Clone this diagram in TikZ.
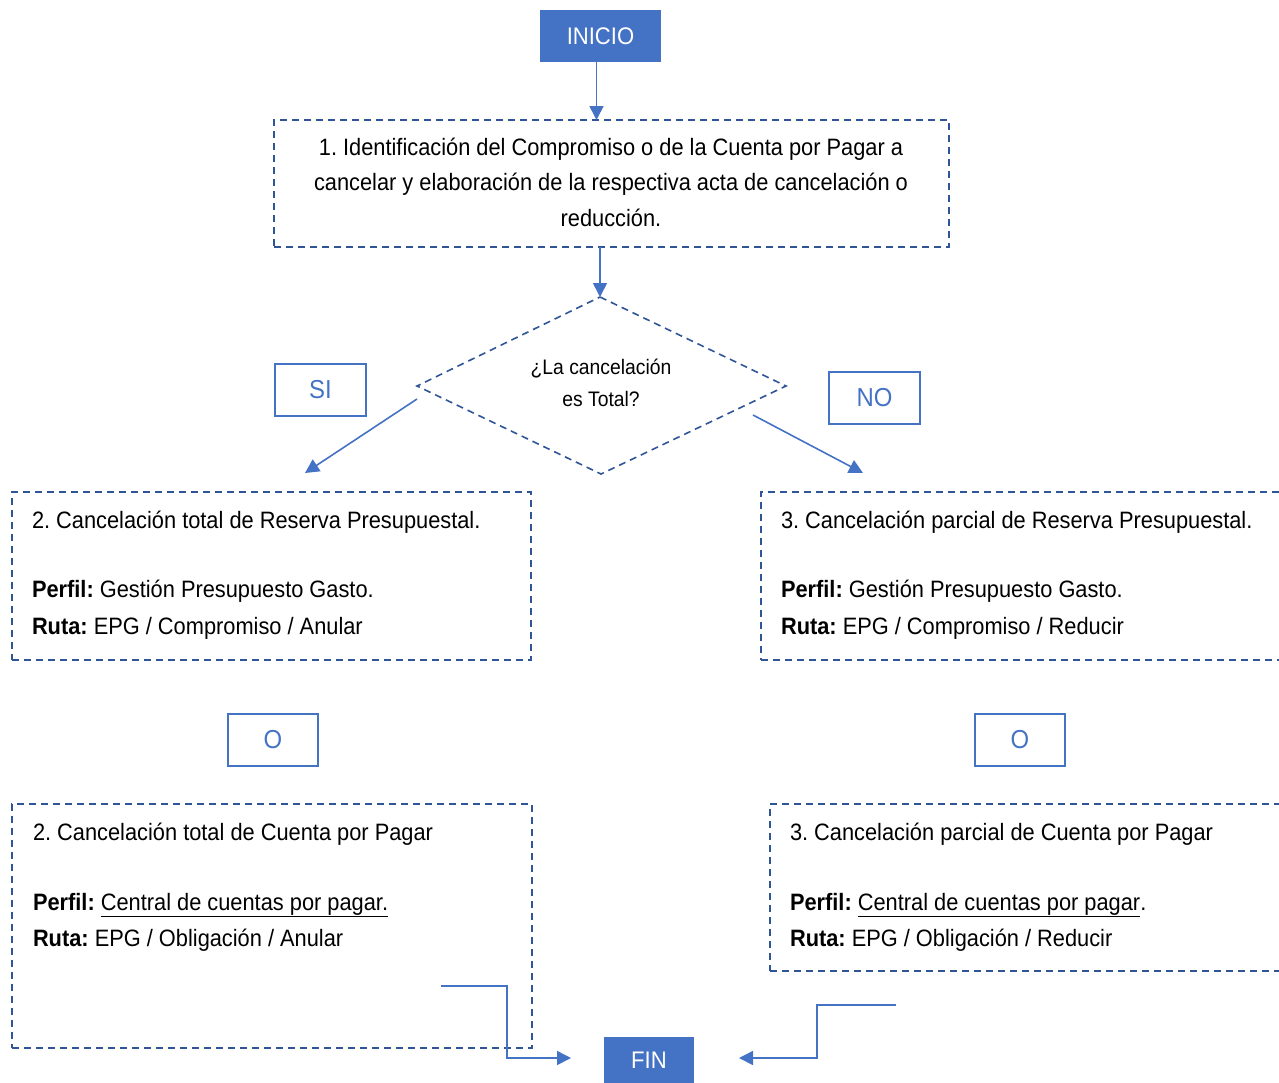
\documentclass[tikz,border=0pt]{standalone}
\usepackage{fontspec}
\setmainfont[FakeStretch=0.92]{Liberation Sans}
\usetikzlibrary{arrows.meta,shapes.geometric}
\definecolor{fillblue}{HTML}{4472C4}
\definecolor{dashblue}{HTML}{2F5597}
\begin{document}
\frenchspacing
\begin{tikzpicture}[x=1pt,y=-1pt,
  every node/.style={inner sep=0pt,outer sep=0pt},
  termbox/.style={fill=fillblue,draw=none,text=white,font=\fontsize{24}{28}\selectfont},
  dashbox/.style={draw=dashblue,line width=1.6pt,dash pattern=on 7pt off 5pt},
  labbox/.style={draw=fillblue,line width=1.6pt,text=fillblue,font=\fontsize{26}{30}\selectfont},
  txt/.style={font=\fontsize{23.7}{28}\selectfont,anchor=base west},
  ctxt/.style={font=\fontsize{23.7}{28}\selectfont,anchor=base},
  dtxt/.style={font=\fontsize{21}{25}\selectfont,anchor=base},
  conn/.style={draw=fillblue,line width=1.6pt,-{Triangle[length=14pt,width=14pt]}}
]
\useasboundingbox (0,0) rectangle (1279,1082);
\clip (0,0) rectangle (1279,1082);
% terminal nodes
\node[termbox,minimum width=121pt,minimum height=52pt] (inicio) at (600.5,36) {INICIO};
\node[termbox,minimum width=90pt,minimum height=46pt] (fin) at (649,1060) {FIN};
% step 1
\node[dashbox,minimum width=675pt,minimum height=127pt] (b1) at (611.5,183.5) {};
\node[ctxt] (b1l1) at (611,155) {1. Identificación del Compromiso o de la Cuenta por Pagar a};
\node[ctxt] (b1l2) at (611,190.5) {cancelar y elaboración de la respectiva acta de cancelación o};
\node[ctxt] (b1l3) at (611,226) {reducción.};
% decision
\coordinate (dt) at (600,297);
\coordinate (dl) at (417,386);
\coordinate (dr) at (786,386);
\coordinate (db) at (601,474);
\draw[dashbox] (dt) -- (dr) -- (db) -- (dl) -- cycle;
\node[dtxt] (q1) at (601,374) {¿La cancelación};
\node[dtxt] (q2) at (601,406) {es Total?};
% labels
\node[labbox,minimum width=91pt,minimum height=52pt] (si) at (320.5,390) {SI};
\node[labbox,minimum width=91pt,minimum height=52pt] (no) at (874.5,398) {NO};
\node[labbox,minimum width=90pt,minimum height=52pt] (o1) at (273,740) {O};
\node[labbox,minimum width=90pt,minimum height=52pt] (o2) at (1020,740) {O};
% step 2 / 3 boxes
\node[dashbox,minimum width=519pt,minimum height=168pt] (b2) at (271.5,576) {};
\node[txt] at (32,528) {2. Cancelación total de Reserva Presupuestal.};
\node[txt] at (32,597) {\textbf{Perfil:} Gestión Presupuesto Gasto.};
\node[txt] at (32,634) {\textbf{Ruta:} EPG / Compromiso / Anular};
\node[dashbox,minimum width=529pt,minimum height=168pt] (b3) at (1025.5,576) {};
\node[txt] at (781,528) {3. Cancelación parcial de Reserva Presupuestal.};
\node[txt] at (781,597) {\textbf{Perfil:} Gestión Presupuesto Gasto.};
\node[txt] at (781,634) {\textbf{Ruta:} EPG / Compromiso / Reducir};
\node[dashbox,minimum width=520pt,minimum height=244pt] (b4) at (272,926) {};
\node[txt] at (33,840) {2. Cancelación total de Cuenta por Pagar};
\node[txt] at (33,910) {\textbf{Perfil:} \underline{Central de cuentas por pagar.}};
\node[txt] at (33,946) {\textbf{Ruta:} EPG / Obligación / Anular};
\node[dashbox,minimum width=520pt,minimum height=167pt] (b5) at (1030,887.5) {};
\node[txt] at (790,840) {3. Cancelación parcial de Cuenta por Pagar};
\node[txt] at (790,910) {\textbf{Perfil:} \underline{Central de cuentas por pagar}.};
\node[txt] at (790,946) {\textbf{Ruta:} EPG / Obligación / Reducir};
% connectors
\draw[conn] ([xshift=-4pt]inicio.south) -- ([xshift=-4pt]inicio.south |- b1.north);
\draw[conn] (b1.south -| dt) -- (dt);
\coordinate (sistart) at (417,399);
\coordinate (siend) at (305,473);
\coordinate (nostart) at (753,415);
\coordinate (noend) at (863,473);
\draw[conn] (sistart) -- (siend);
\draw[conn] (nostart) -- (noend);
\coordinate (lf) at (441,986);
\coordinate (rf) at (896,1005);
\draw[conn,shorten >=33pt] (lf) -- (507,986) -- (507,1058) -- (fin.west |- 0,1058);
\draw[conn,shorten >=45pt] (rf) -- (817,1005) -- (817,1058) -- (fin.east |- 0,1058);
\end{tikzpicture}
\end{document}
